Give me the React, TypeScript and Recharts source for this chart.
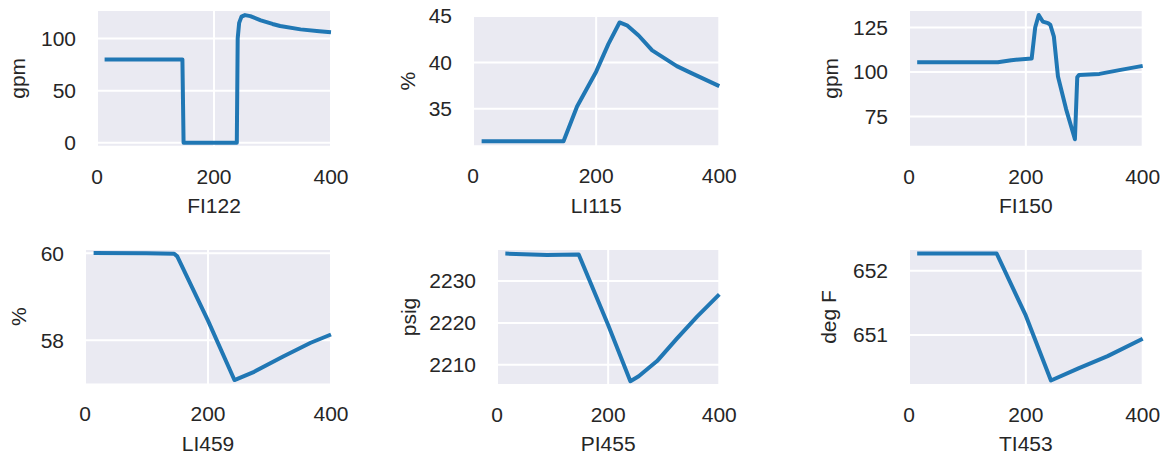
import { LineChart, Line, XAxis, YAxis, CartesianGrid } from 'recharts';

// shared x ticks (seconds)
const xTicks = [0, 200, 400];

// FI122 - gpm
const fi122Time = [13, 100, 146, 147, 148, 200, 239, 240.5, 243, 247, 253, 262, 280, 300, 313, 348, 380, 400];
const fi122Values = [80, 80, 80, 40, 0, 0, 0, 100, 115, 121, 122.5, 121.5, 117.5, 114, 112, 108.8, 107, 106];

// LI115 - %
const li115Time = [14, 80, 147, 169, 200, 220, 238, 250, 269, 291, 331, 353, 400];
const li115Values = [31.5, 31.5, 31.5, 35.25, 39.0, 42.0, 44.3, 44.0, 42.9, 41.3, 39.6, 38.9, 37.45];

// FI150 - gpm
const fi150Time = [14, 100, 152, 175, 210, 216, 222, 229, 238, 242, 248, 255, 269, 284, 288, 291, 326, 360, 400];
const fi150Values = [105.4, 105.4, 105.4, 106.6, 107.6, 125, 132, 128.3, 127.4, 126.4, 119.8, 97.4, 79, 62.2, 97, 98.3, 98.9, 101, 103.4];

// LI459 - %
const li459Time = [14, 100, 145, 150, 200, 243, 275, 323, 367, 400];
const li459Values = [60.01, 60.0, 59.99, 59.93, 58.45, 57.08, 57.27, 57.63, 57.94, 58.13];

// PI455 - psig
const pi455Time = [15, 90, 147, 200, 240, 255, 288, 324, 360, 400];
const pi455Values = [2236.5, 2236.2, 2236.3, 2219.5, 2206.1, 2207.3, 2210.9, 2216.3, 2221.5, 2226.8];

// TI453 - deg F
const ti453Time = [14, 100, 150, 200, 243, 290, 340, 400];
const ti453Values = [652.27, 652.27, 652.27, 651.3, 650.29, 650.48, 650.67, 650.94];

const toRows = (t: number[], v: number[]) => t.map((x, i) => ({ t: x, v: v[i] }));

const panels = [
  { name: 'FI122', unit: 'gpm', time: fi122Time, values: fi122Values, domain: [-3.8, 127.4], ticks: [0, 50, 100], box: { left: 96.7, top: 10, right: 330.7, bottom: 146.7 }, unitX: 17.5 },
  { name: 'LI115', unit: '%', time: li115Time, values: li115Values, domain: [30.96, 45], ticks: [35, 40, 45], box: { left: 472.7, top: 16.4, right: 719, bottom: 146.7 }, unitX: 407 },
  { name: 'FI150', unit: 'gpm', time: fi150Time, values: fi150Values, domain: [58.0, 134.8], ticks: [75, 100, 125], box: { left: 909.3, top: 10, right: 1143, bottom: 146.7 }, unitX: 831 },
  { name: 'LI459', unit: '%', time: li459Time, values: li459Values, domain: [56.98, 60.1], ticks: [58, 60], box: { left: 85, top: 249.3, right: 331, bottom: 384.7 }, unitX: 18.7 },
  { name: 'PI455', unit: 'psig', time: pi455Time, values: pi455Values, domain: [2205.2, 2237.6], ticks: [2210, 2220, 2230], box: { left: 496.7, top: 248.7, right: 719, bottom: 384.7 }, unitX: 408 },
  { name: 'TI453', unit: 'deg F', time: ti453Time, values: ti453Values, domain: [650.22, 652.34], ticks: [651, 652], box: { left: 909.3, top: 248.7, right: 1143, bottom: 384.7 }, unitX: 829.3 },
];

const YW = 100;
const MT = 20;
const MR = 40;
const XH = 75;
const TEXT = '#262626';
const tickStyle = { fill: TEXT, fontSize: 21 };
const labelStyle = { fill: TEXT, fontSize: 21 };

function Panel({ p }: { p: any }) {
  const w = p.box.right - p.box.left + YW + MR;
  const h = p.box.bottom - p.box.top + MT + XH;
  return (
    <div style={{ position: 'absolute', left: p.box.left - YW, top: p.box.top - MT }}>
      <LineChart width={w} height={h} data={toRows(p.time, p.values)} margin={{ top: MT, right: MR, bottom: 0, left: 0 }}>
        <CartesianGrid fill="#eaeaf2" stroke="#ffffff" strokeWidth={2} />
        <XAxis
          dataKey="t"
          type="number"
          domain={[0, 400]}
          ticks={xTicks}
          axisLine={false}
          tickLine={false}
          tickSize={0}
          tickMargin={22}
          height={XH}
          tick={tickStyle}
          label={{ value: p.name, position: 'insideBottom', offset: 8.7, style: labelStyle }}
        />
        <YAxis
          type="number"
          domain={p.domain}
          ticks={p.ticks}
          allowDataOverflow
          axisLine={false}
          tickLine={false}
          tickSize={0}
          tickMargin={21}
          width={YW}
          tick={tickStyle}
          label={{
            value: p.unit,
            angle: -90,
            position: 'insideLeft',
            offset: p.unitX - (p.box.left - YW),
            style: { ...labelStyle, textAnchor: 'middle' },
          }}
        />
        <Line
          type="linear"
          dataKey="v"
          stroke="#2077b4"
          strokeWidth={4}
          dot={false}
          strokeLinejoin="round"
          isAnimationActive={false}
        />
      </LineChart>
    </div>
  );
}

export default function App() {
  return (
    <div
      style={{
        position: 'absolute',
        left: 0,
        top: 0,
        width: 1168,
        height: 456,
        background: '#ffffff',
        fontFamily: '"Liberation Sans", Arial, sans-serif',
      }}
    >
      {panels.map((p) => (
        <Panel key={p.name} p={p} />
      ))}
    </div>
  );
}
